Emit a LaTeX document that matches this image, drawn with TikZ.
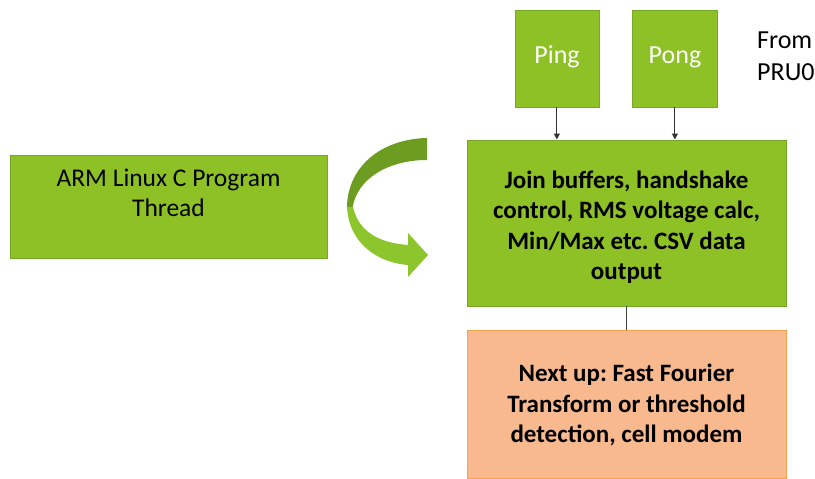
\documentclass[tikz,border=0pt]{standalone}
\usepackage{fontspec}
\setmainfont{Carlito}
\frenchspacing
\usetikzlibrary{arrows.meta}
\definecolor{grfill}{RGB}{141,193,38}
\definecolor{grdraw}{RGB}{118,168,40}
\definecolor{orfill}{RGB}{249,185,143}
\definecolor{ordraw}{RGB}{247,160,80}
\definecolor{ardark}{RGB}{108,156,32}
\definecolor{arlight}{RGB}{140,197,44}
\tikzset{
  gbox/.style={draw=grdraw, fill=grfill, line width=0.8pt},
  obox/.style={draw=ordraw, fill=orfill, line width=0.8pt},
  txt/.style={align=center, font=\fontsize{25.5}{30}\selectfont, text=black},
  btxt/.style={align=center, font=\fontsize{25}{30.5}\selectfont\bfseries, text=black},
  conn/.style={line width=1.1pt, draw=black!80, -{Triangle[length=6pt,width=6pt]}},
  plain/.style={line width=1.1pt, draw=black!75}
}
\begin{document}
\begin{tikzpicture}[x=1pt,y=-1pt]
\useasboundingbox (0,0) rectangle (815,479);
% boxes
\node[gbox, minimum width=317pt, minimum height=103pt, anchor=north west, inner sep=0pt] (arm) at (10,155) {};
\node[txt] (armt) at (168.5,193) {ARM Linux C Program\\Thread};
\node[gbox, minimum width=84pt, minimum height=97pt, anchor=north west, inner sep=0pt] (ping) at (514.5,9.5) {};
\node[font=\fontsize{26}{30}\selectfont, text=white] (pingt) at (557,57) {Ping};
\node[gbox, minimum width=85pt, minimum height=97pt, anchor=north west, inner sep=0pt] (pong) at (632,9.5) {};
\node[font=\fontsize{26}{30}\selectfont, text=white] (pongt) at (675,57) {Pong};
\node[font=\fontsize{26}{32}\selectfont, align=left, anchor=west, inner sep=0pt] (from) at (757,56) {From\\PRU0};
\node[gbox, minimum width=319pt, minimum height=166pt, anchor=north west, inner sep=0pt] (main) at (467,139.5) {};
\node[btxt] (maint) at (626.5,227) {Join buffers, handshake\\control, RMS voltage calc,\\Min/Max etc. CSV data\\output};
\node[obox, minimum width=319pt, minimum height=148pt, anchor=north west, inner sep=0pt] (next) at (467,330) {};
\node[btxt] (nextt) at (626.5,405) {Next up: Fast Fourier\\Transform or threshold\\detection, cell modem};
% connectors
\draw[conn] (ping.south) -- (ping.south |- main.north);
\draw[conn] (pong.south) -- (pong.south |- main.north);
\draw[plain] (next.north |- main.south) -- (next.north);
% curved arrow
\begin{scope}
\clip (330,120) rectangle (440,207);
\fill[ardark] (427,138) .. controls (380,139) and (346,168) .. (347,210)
  -- (352,215) .. controls (352,182) and (385,160) .. (427,160) -- cycle;
\end{scope}
\begin{scope}
\clip (330,207) rectangle (440,290);
\fill[arlight] (347,205) .. controls (348,245) and (380,263) .. (408,265)
  -- (408,277) -- (428,255) -- (408,233) -- (408,245)
  .. controls (380,243) and (355,232) .. (352,200) -- cycle;
\end{scope}
\end{tikzpicture}
\end{document}
